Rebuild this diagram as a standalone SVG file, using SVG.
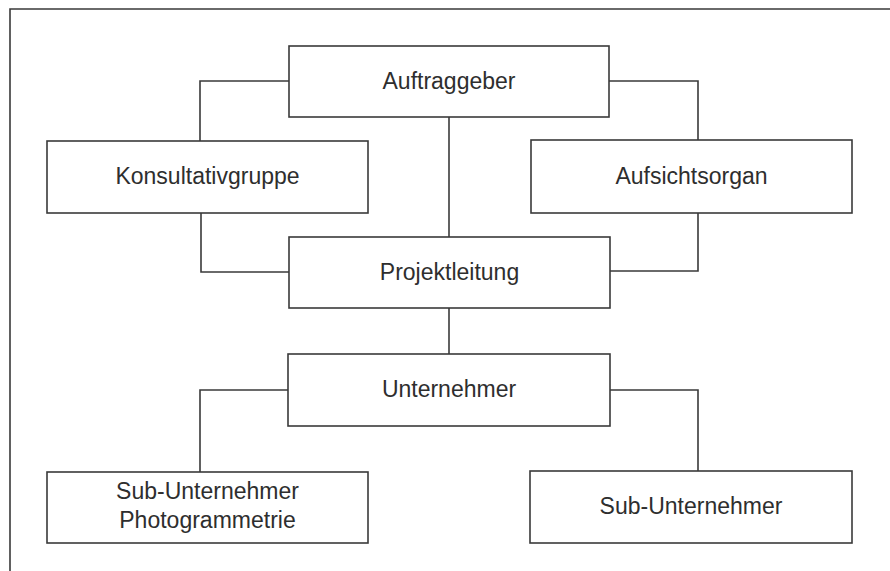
<svg xmlns="http://www.w3.org/2000/svg" width="890" height="571" viewBox="0 0 890 571">
<style>
.box{fill:#fff;stroke:#3a3a3a;stroke-width:1.6}
.ln{fill:none;stroke:#3a3a3a;stroke-width:1.6}
text{font-family:"Liberation Sans",Arial,Helvetica,sans-serif;font-size:23px;fill:#2e2e2e;text-anchor:middle}
</style>
<rect width="890" height="571" fill="#fff"/>
<g id="frame"><path class="ln" d="M10,571 V9 H890"/></g>
<g id="connectors">
<path class="ln" d="M289,81 H200 V141"/>
<path class="ln" d="M609,81 H698 V140"/>
<path class="ln" d="M449,117 V237"/>
<path class="ln" d="M201,213 V272 H289"/>
<path class="ln" d="M698,213 V271 H610"/>
<path class="ln" d="M449,308 V354"/>
<path class="ln" d="M288,390 H200 V472"/>
<path class="ln" d="M610,390 H698 V471"/>
</g>
<g id="auftraggeber"><rect class="box" x="289" y="46" width="320" height="71"/><text x="449" y="89">Auftraggeber</text></g>
<g id="konsultativgruppe"><rect class="box" x="47" y="141" width="321" height="72"/><text x="207.5" y="184">Konsultativgruppe</text></g>
<g id="aufsichtsorgan"><rect class="box" x="531" y="140" width="321" height="73"/><text x="691.5" y="184">Aufsichtsorgan</text></g>
<g id="projektleitung"><rect class="box" x="289" y="237" width="321" height="71"/><text x="449.5" y="280">Projektleitung</text></g>
<g id="unternehmer"><rect class="box" x="288" y="354" width="322" height="72"/><text x="449" y="397">Unternehmer</text></g>
<g id="sub-photogrammetrie"><rect class="box" x="47" y="472" width="321" height="71"/><text x="207.5" y="499">Sub-Unternehmer</text><text x="207.5" y="528">Photogrammetrie</text></g>
<g id="sub-unternehmer"><rect class="box" x="530" y="471" width="322" height="72"/><text x="691" y="514">Sub-Unternehmer</text></g>
</svg>
